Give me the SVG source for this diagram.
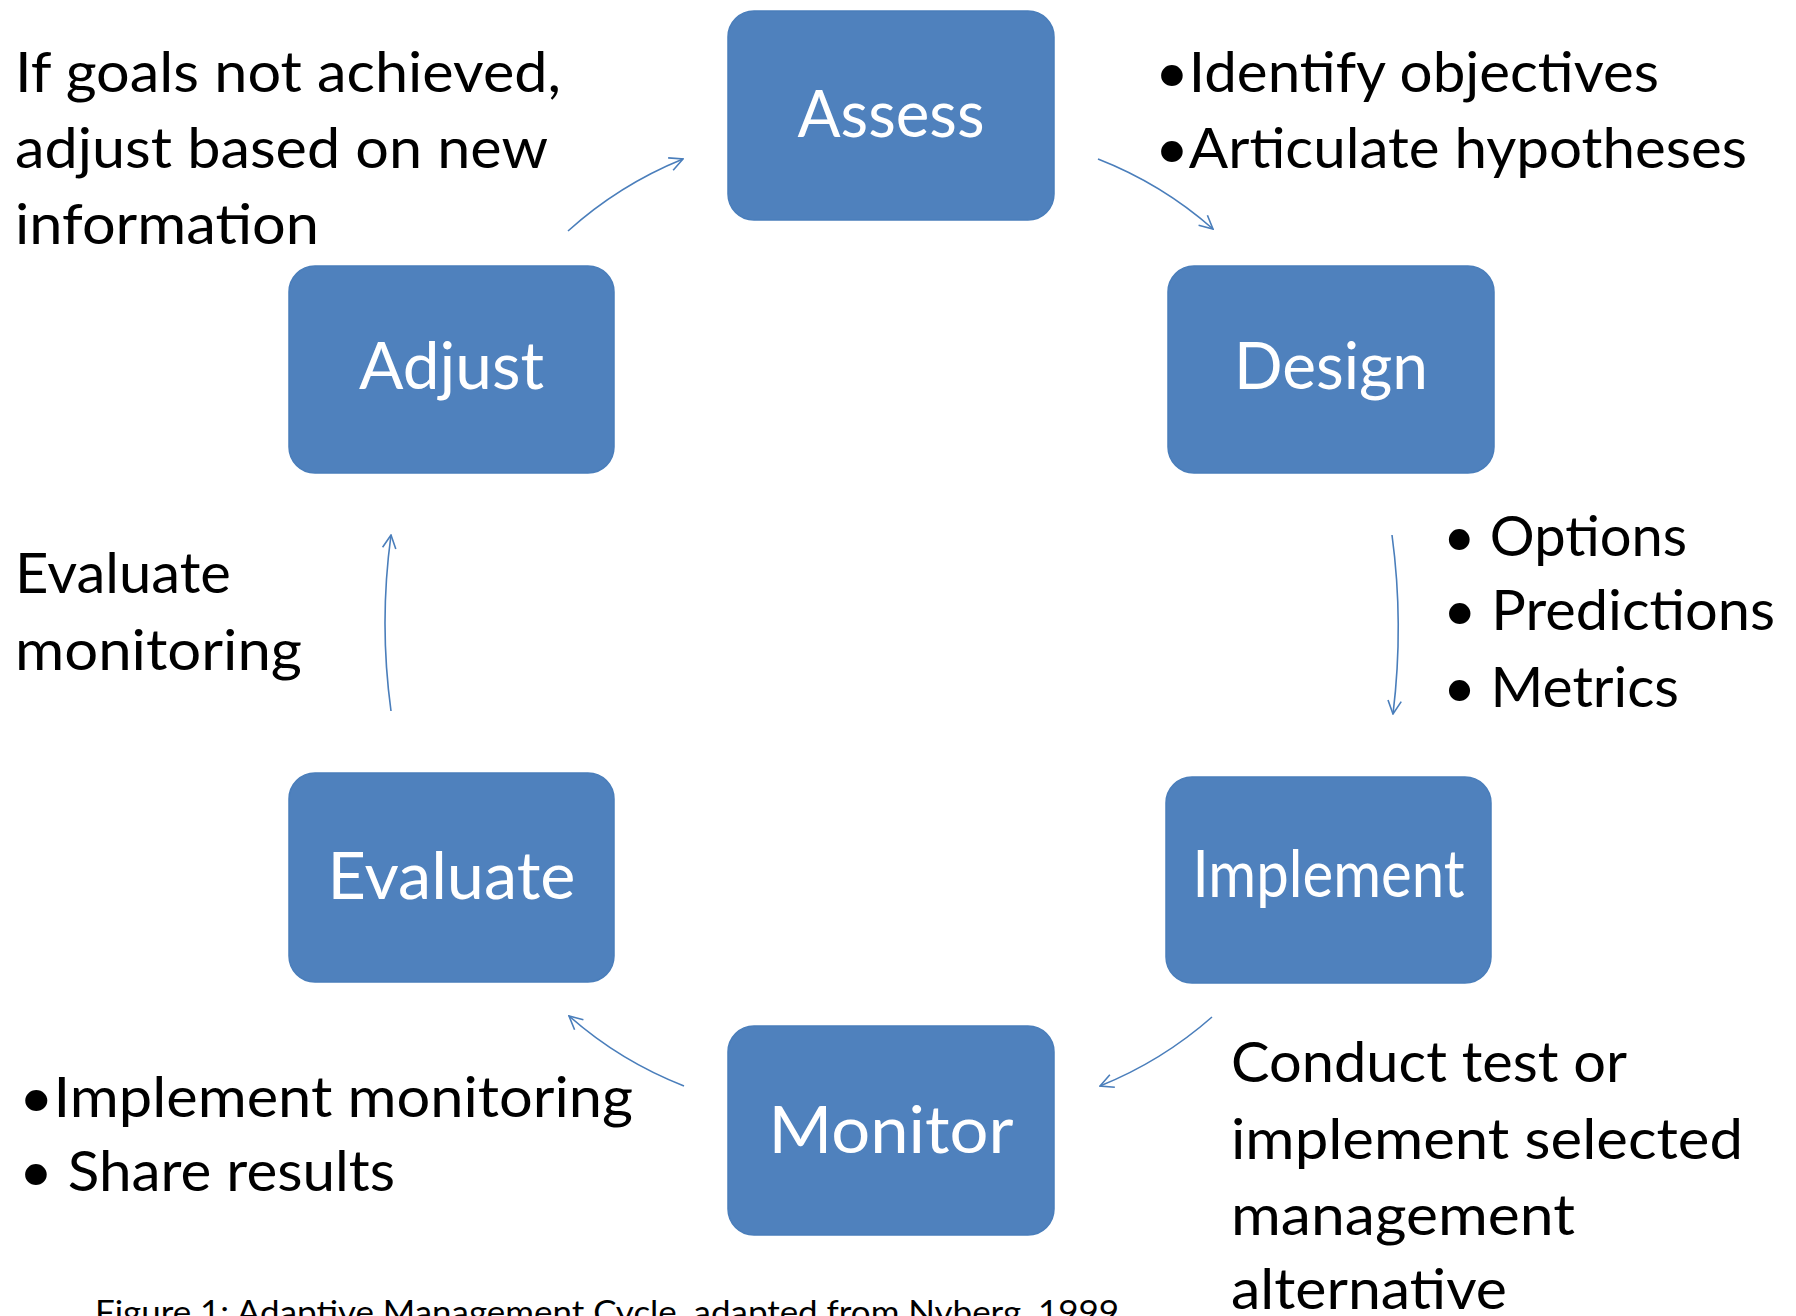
<svg xmlns="http://www.w3.org/2000/svg" width="1796" height="1316" viewBox="0 0 1796 1316">
<style>
.box{fill:#4F81BD;stroke:#4A7EBB;stroke-width:1.5}
.lbl{font-family:Lato,"Open Sans","Liberation Sans",sans-serif;fill:#FFFFFF;text-anchor:middle;font-size:66px}
.txt{font-family:Lato,"Open Sans","Liberation Sans",sans-serif;fill:#000000;font-size:56px}
.cap{font-family:Lato,"Open Sans","Liberation Sans",sans-serif;fill:#000000;font-size:33px}
.conn{fill:none;stroke:#4A7EBB;stroke-width:1.6}
</style>
<defs>
<marker id="arr" viewBox="0 0 12 12" refX="11" refY="6" markerWidth="16" markerHeight="16" markerUnits="userSpaceOnUse" orient="auto">
<path d="M1,1 L11,6 L1,11" fill="none" stroke="#4A7EBB" stroke-width="1.2"/>
</marker>
</defs>
<rect width="1796" height="1316" fill="#FFFFFF"/>

<g id="connectors">
<path class="conn" marker-end="url(#arr)" d="M568,231 Q619,185 683,159"/>
<path class="conn" marker-end="url(#arr)" d="M1098,159 Q1162,184 1213,229"/>
<path class="conn" marker-end="url(#arr)" d="M1392,535 Q1404,624 1393,714"/>
<path class="conn" marker-end="url(#arr)" d="M1212,1017 Q1162,1061 1100,1086"/>
<path class="conn" marker-end="url(#arr)" d="M684,1086 Q620,1061 569,1016"/>
<path class="conn" marker-end="url(#arr)" d="M391,711 Q379,623 391,535"/>
</g>

<g id="node-assess">
<rect class="box" x="728" y="11" width="326" height="209" rx="26"/>
<text class="lbl" x="891" y="137" textLength="187" lengthAdjust="spacingAndGlyphs">Assess</text>
</g>
<g id="node-design">
<rect class="box" x="1168" y="266" width="326" height="207" rx="26"/>
<text class="lbl" x="1331" y="389" textLength="194" lengthAdjust="spacingAndGlyphs">Design</text>
</g>
<g id="node-implement">
<rect class="box" x="1166" y="777" width="325" height="206" rx="26"/>
<text class="lbl" x="1328.5" y="897" font-size="58" textLength="272" lengthAdjust="spacingAndGlyphs">Implement</text>
</g>
<g id="node-monitor">
<rect class="box" x="728" y="1026" width="326" height="209" rx="26"/>
<text class="lbl" x="891" y="1153" font-size="70" textLength="245" lengthAdjust="spacingAndGlyphs">Monitor</text>
</g>
<g id="node-evaluate">
<rect class="box" x="289" y="773" width="325" height="209" rx="26"/>
<text class="lbl" x="451.5" y="899" font-size="70" textLength="248" lengthAdjust="spacingAndGlyphs">Evaluate</text>
</g>
<g id="node-adjust">
<rect class="box" x="289" y="266" width="325" height="207" rx="26"/>
<text class="lbl" x="451.5" y="389" textLength="185" lengthAdjust="spacingAndGlyphs">Adjust</text>
</g>

<g id="note-adjust">
<text class="txt" x="15" y="92" textLength="546" lengthAdjust="spacingAndGlyphs">If goals not achieved,</text>
<text class="txt" x="15" y="168" textLength="533" lengthAdjust="spacingAndGlyphs">adjust based on new</text>
<text class="txt" x="15" y="244" textLength="304" lengthAdjust="spacingAndGlyphs">information</text>
</g>
<g id="note-assess">
<text class="txt" x="1155" y="92" textLength="504" lengthAdjust="spacingAndGlyphs">•Identify objectives</text>
<text class="txt" x="1155" y="168" textLength="592" lengthAdjust="spacingAndGlyphs">•Articulate hypotheses</text>
</g>
<g id="note-design">
<text class="txt" x="1443" y="556" textLength="244" lengthAdjust="spacingAndGlyphs">• Options</text>
<text class="txt" x="1443" y="630" textLength="332" lengthAdjust="spacingAndGlyphs">• Predictions</text>
<text class="txt" x="1443" y="707" textLength="236" lengthAdjust="spacingAndGlyphs">• Metrics</text>
</g>
<g id="note-evaluate">
<text class="txt" x="15" y="593" textLength="216" lengthAdjust="spacingAndGlyphs">Evaluate</text>
<text class="txt" x="15" y="670" textLength="287" lengthAdjust="spacingAndGlyphs">monitoring</text>
</g>
<g id="note-monitor">
<text class="txt" x="19" y="1117" textLength="614" lengthAdjust="spacingAndGlyphs">•Implement monitoring</text>
<text class="txt" x="19" y="1191" textLength="376" lengthAdjust="spacingAndGlyphs">• Share results</text>
</g>
<g id="note-implement">
<text class="txt" x="1231" y="1082" textLength="396" lengthAdjust="spacingAndGlyphs">Conduct test or</text>
<text class="txt" x="1231" y="1159" textLength="512" lengthAdjust="spacingAndGlyphs">implement selected</text>
<text class="txt" x="1231" y="1235" textLength="344" lengthAdjust="spacingAndGlyphs">management</text>
<text class="txt" x="1231" y="1309" textLength="276" lengthAdjust="spacingAndGlyphs">alternative</text>
</g>
<g id="caption">
<text class="cap" x="95" y="1324" textLength="1024" lengthAdjust="spacingAndGlyphs">Figure 1:  Adaptive Management Cycle, adapted from Nyberg, 1999</text>
</g>
</svg>
